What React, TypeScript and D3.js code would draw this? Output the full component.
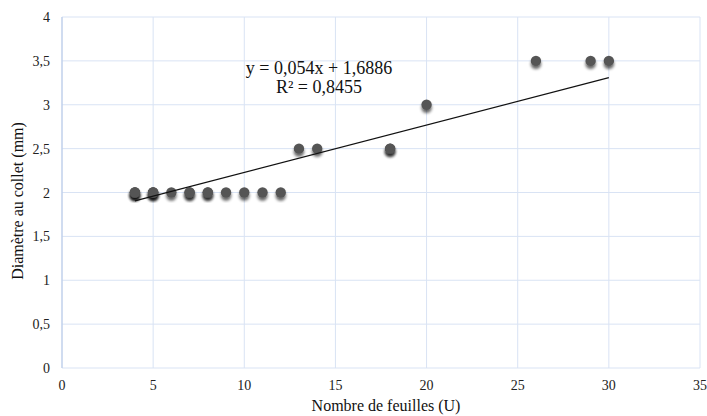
import { useRef, useEffect } from "react";
import * as d3 from "d3";

// leaves count and collar diameter (mm), duplicates are overlapping points
const leaves = [4, 4, 4, 5, 5, 5, 6, 7, 7, 8, 8, 9, 10, 11, 12, 13, 14, 18, 18, 20, 26, 29, 30];
const diameter = [2, 2, 2, 2, 2, 2, 2, 2, 2, 2, 2, 2, 2, 2, 2, 2.5, 2.5, 2.5, 2.5, 3, 3.5, 3.5, 3.5];
const xTicks = [0, 5, 10, 15, 20, 25, 30, 35];
const yTicks = [0, 0.5, 1, 1.5, 2, 2.5, 3, 3.5, 4];
const slope = 0.054;
const intercept = 1.6886;
const equationLabel = "y = 0,054x + 1,6886";
const r2Label = "R² = 0,8455";

const W = 707;
const H = 416;
const margin = { top: 17, right: 7, bottom: 48, left: 62 };

const App = () => {
  const svgRef = useRef<SVGSVGElement>(null);

  useEffect(() => {
    const svg = d3.select(svgRef.current);
    svg.selectAll("*").remove();

    const x = d3.scaleLinear().domain([0, 35]).range([margin.left, W - margin.right]);
    const y = d3.scaleLinear().domain([0, 4]).range([H - margin.bottom, margin.top]);
    const fmt = (v: number) => String(v).replace(".", ",");

    const defs = svg.append("defs");
    const f = defs.append("filter").attr("id", "shadow").attr("x", "-50%").attr("y", "-50%").attr("width", "200%").attr("height", "200%");
    f.append("feGaussianBlur").attr("in", "SourceAlpha").attr("stdDeviation", 1.6).attr("result", "b");
    f.append("feOffset").attr("in", "b").attr("dx", 0).attr("dy", 2.5).attr("result", "o");
    f.append("feComponentTransfer").attr("in", "o").attr("result", "s")
      .append("feFuncA").attr("type", "linear").attr("slope", 0.6);
    const m = f.append("feMerge");
    m.append("feMergeNode").attr("in", "s");
    m.append("feMergeNode").attr("in", "SourceGraphic");

    // grid
    const grid = svg.append("g").attr("stroke", "#d9e3f4").attr("stroke-width", 1);
    xTicks.forEach((t) => {
      grid.append("line").attr("x1", x(t)).attr("x2", x(t)).attr("y1", y(0)).attr("y2", y(4));
    });
    yTicks.forEach((t) => {
      grid.append("line").attr("x1", x(0)).attr("x2", x(35)).attr("y1", y(t)).attr("y2", y(t));
    });
    svg.append("line").attr("x1", x(0)).attr("x2", x(0)).attr("y1", y(0)).attr("y2", y(4))
      .attr("stroke", "#b4c7e7");

    // tick labels
    const lab = svg.append("g").attr("font-family", "'Liberation Serif', serif").attr("font-size", 14).attr("fill", "#222");
    xTicks.forEach((t) => {
      lab.append("text").attr("x", x(t)).attr("y", y(0) + 22).attr("text-anchor", "middle").text(fmt(t));
    });
    yTicks.forEach((t) => {
      lab.append("text").attr("x", x(0) - 12).attr("y", y(t) + 5).attr("text-anchor", "end").text(fmt(t));
    });

    // points
    const pts = leaves.map((l, i) => ({ l, d: diameter[i] }));
    svg.append("g").selectAll("circle").data(pts).join("circle")
      .attr("cx", (d) => x(d.l)).attr("cy", (d) => y(d.d)).attr("r", 5.2)
      .attr("fill", "#555555").attr("filter", "url(#shadow)");

    // trendline
    const x0 = d3.min(leaves) as number;
    const x1 = d3.max(leaves) as number;
    svg.append("line")
      .attr("x1", x(x0)).attr("y1", y(slope * x0 + intercept))
      .attr("x2", x(x1)).attr("y2", y(slope * x1 + intercept))
      .attr("stroke", "#111").attr("stroke-width", 1.2);

    const eq = svg.append("g").attr("font-family", "'Liberation Serif', serif").attr("font-size", 18).attr("fill", "#111").attr("text-anchor", "middle");
    eq.append("text").attr("x", 319).attr("y", 74).text(equationLabel);
    eq.append("text").attr("x", 319).attr("y", 93).text(r2Label);

    // axis titles
    const at = svg.append("g").attr("font-family", "'Liberation Serif', serif").attr("font-size", 16).attr("fill", "#111").attr("text-anchor", "middle");
    at.append("text").attr("x", 386).attr("y", 411).text("Nombre de feuilles (U)");
    at.append("text").attr("transform", `translate(23,201) rotate(-90)`).text("Diamètre au collet (mm)");
  }, []);

  return (
    <svg ref={svgRef} width={W} height={H} style={{ position: "absolute", left: 0, top: 0, background: "#fff" }} />
  );
};

export default App;
